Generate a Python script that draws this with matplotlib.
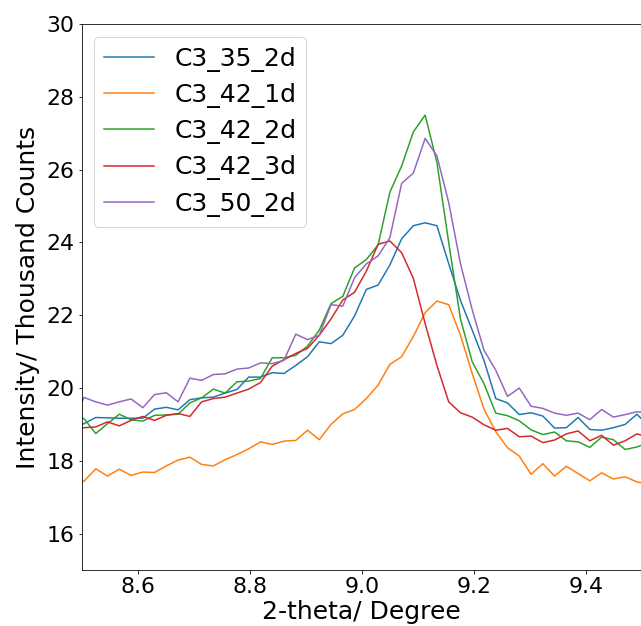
import numpy as np
import matplotlib
matplotlib.use("Agg")
import matplotlib.pyplot as plt

# 2-theta scan grid (first point sits just left of the axis edge)
two_theta = np.round(8.483 + 0.021 * np.arange(50), 3)

c3_35_2d = [18.90, 19.02, 19.19, 19.18, 19.17, 19.17, 19.17, 19.42, 19.47, 19.40,
            19.68, 19.73, 19.75, 19.86, 19.96, 20.30, 20.30, 20.42, 20.40, 20.62,
            20.86, 21.27, 21.22, 21.45, 21.98, 22.71, 22.83, 23.38, 24.10, 24.46,
            24.54, 24.46, 23.42, 22.41, 21.59, 20.76, 19.71, 19.59, 19.27, 19.32,
            19.23, 18.90, 18.91, 19.19, 18.86, 18.84, 18.91, 19.00, 19.28, 18.95]

c3_42_1d = [17.42, 17.44, 17.78, 17.58, 17.77, 17.60, 17.69, 17.68, 17.86, 18.02,
            18.10, 17.90, 17.86, 18.03, 18.17, 18.33, 18.52, 18.45, 18.54, 18.56,
            18.84, 18.58, 19.00, 19.29, 19.41, 19.71, 20.08, 20.65, 20.86, 21.42,
            22.07, 22.39, 22.29, 21.45, 20.40, 19.42, 18.80, 18.36, 18.13, 17.63,
            17.92, 17.58, 17.85, 17.65, 17.45, 17.67, 17.50, 17.56, 17.42, 17.36]

c3_42_2d = [19.20, 19.16, 18.75, 19.02, 19.28, 19.13, 19.09, 19.25, 19.26, 19.28,
            19.59, 19.73, 19.97, 19.86, 20.17, 20.19, 20.26, 20.83, 20.83, 20.90,
            21.15, 21.59, 22.32, 22.52, 23.30, 23.53, 23.93, 25.38, 26.10, 27.04,
            27.50, 26.20, 24.00, 21.90, 20.72, 20.12, 19.31, 19.24, 19.10, 18.85,
            18.72, 18.79, 18.55, 18.52, 18.37, 18.65, 18.58, 18.31, 18.38, 18.50]

c3_42_3d = [18.88, 18.91, 18.93, 19.07, 18.96, 19.11, 19.22, 19.11, 19.25, 19.30,
            19.22, 19.62, 19.71, 19.75, 19.86, 19.97, 20.15, 20.60, 20.78, 20.95,
            21.09, 21.45, 21.90, 22.42, 22.63, 23.21, 23.95, 24.04, 23.72, 23.01,
            21.77, 20.62, 19.62, 19.32, 19.20, 18.99, 18.84, 18.89, 18.66, 18.68,
            18.50, 18.57, 18.74, 18.82, 18.55, 18.70, 18.43, 18.55, 18.74, 18.65]

c3_50_2d = [19.00, 19.74, 19.62, 19.53, 19.62, 19.70, 19.46, 19.82, 19.87, 19.62,
            20.27, 20.21, 20.37, 20.39, 20.52, 20.55, 20.69, 20.67, 20.76, 21.48,
            21.33, 21.45, 22.29, 22.25, 23.03, 23.41, 23.63, 24.13, 25.62, 25.91,
            26.86, 26.38, 25.10, 23.42, 22.15, 21.04, 20.49, 19.77, 20.00, 19.50,
            19.44, 19.31, 19.25, 19.31, 19.13, 19.41, 19.20, 19.27, 19.35, 19.30]

series = {
    "C3_35_2d": c3_35_2d,
    "C3_42_1d": c3_42_1d,
    "C3_42_2d": c3_42_2d,
    "C3_42_3d": c3_42_3d,
    "C3_50_2d": c3_50_2d,
}

x_ticks = [8.6, 8.8, 9.0, 9.2, 9.4]
y_ticks = [16, 18, 20, 22, 24, 26, 28, 30]

fig = plt.figure(figsize=(641 / 72, 626 / 72), dpi=72)
ax = fig.add_axes([0.1275, 0.0895, 0.874, 0.872])

for name, values in series.items():
    ax.plot(two_theta, values, label=name, linewidth=1.5)

ax.set_xlim(8.5, 9.5)
ax.set_ylim(15, 30)
ax.set_xticks(x_ticks)
ax.set_xticklabels([f"{t:.1f}" for t in x_ticks])
ax.set_yticks(y_ticks)
ax.tick_params(labelsize=22)

# keep the x label just inside the bottom edge
ax.set_xlabel("2-theta/ Degree", fontsize=25, labelpad=3)
ax.set_ylabel("Intensity/ Thousand Counts", fontsize=25, labelpad=7)
ax.legend(loc="upper left", fontsize=25, labelspacing=0.45)

fig.savefig("out.png", dpi=72)
